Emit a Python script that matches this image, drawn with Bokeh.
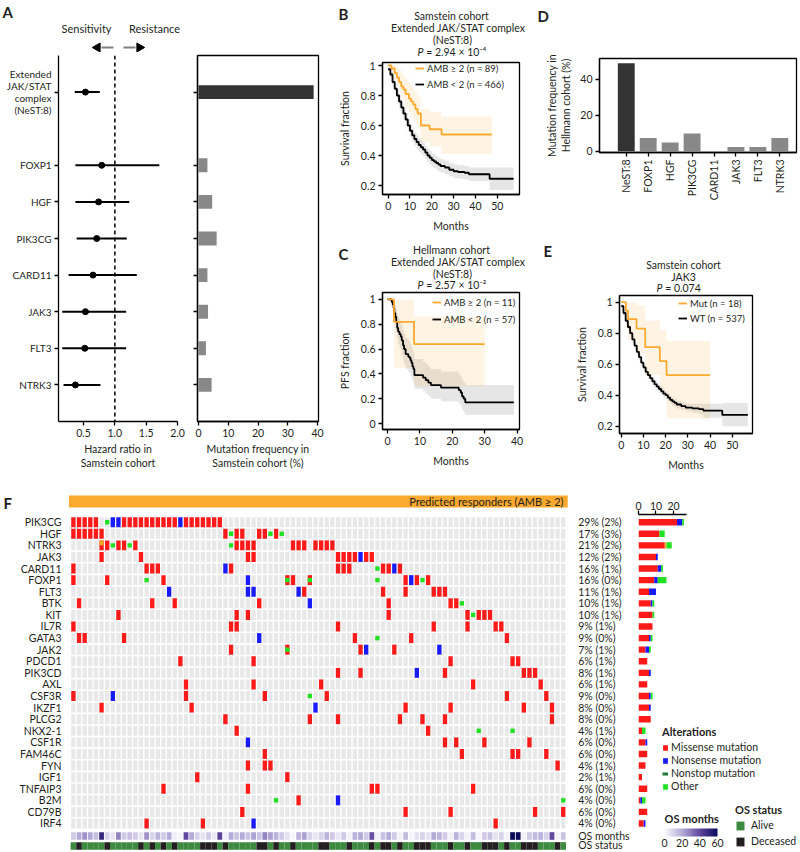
import numpy as np
from bokeh.plotting import figure
from bokeh.layouts import row, column
from bokeh.models import (Range1d, FixedTicker, Span, Legend, LegendItem, ColorBar, LinearColorMapper, Label)
from bokeh.core.properties import value
from bokeh.embed import file_html
from bokeh.resources import INLINE

# ------------------------------------------------------------------ data
# Panel A
A_NAMES = ["Extended\nJAK/STAT\ncomplex\n(NeST:8)", "FOXP1", "HGF", "PIK3CG", "CARD11", "JAK3", "FLT3", "NTRK3"]
A_POS = [0, 2, 3, 4, 5, 6, 7, 8]
A_HR = [0.53, 0.79, 0.74, 0.71, 0.65, 0.53, 0.52, 0.37]
A_LO = [0.36, 0.37, 0.37, 0.39, 0.26, 0.16, 0.16, 0.18]
A_HI = [0.76, 1.71, 1.23, 1.19, 1.35, 1.18, 1.18, 0.77]
A_FREQ = [38.7, 3.0, 4.6, 6.1, 3.0, 3.2, 2.5, 4.4]

# Panel B (Samstein, NeST:8)
B_HI_T = [0, 1.5, 3, 4, 5, 6, 7, 8, 9.5, 10.5, 11.5, 12.5, 13.5, 15, 19, 24.5, 47.5]
B_HI_S = [1.0, 0.98, 0.95, 0.92, 0.89, 0.86, 0.84, 0.81, 0.78, 0.76, 0.74, 0.71, 0.68, 0.60, 0.575, 0.54, 0.54]
B_HI_UP = [1.0, 1.0, 1.0, 0.99, 0.97, 0.95, 0.93, 0.91, 0.88, 0.86, 0.84, 0.82, 0.79, 0.71, 0.69, 0.66, 0.66]
B_HI_LO = [1.0, 0.94, 0.90, 0.86, 0.82, 0.79, 0.76, 0.72, 0.69, 0.66, 0.63, 0.61, 0.58, 0.49, 0.46, 0.41, 0.41]
B_LO_T = [0, 1, 2, 3, 4, 5, 6, 7, 8, 9, 10, 11, 12, 13, 14, 15, 16, 17, 18, 19, 20, 21, 22, 23, 24,
          26, 28, 30, 32, 35, 37, 46.5, 57.5]
B_LO_S = [0.975, 0.94, 0.89, 0.845, 0.80, 0.76, 0.72, 0.68, 0.64, 0.60, 0.565, 0.535, 0.51, 0.49, 0.47,
          0.455, 0.44, 0.42, 0.40, 0.385, 0.37, 0.36, 0.35, 0.34, 0.33, 0.32, 0.305, 0.295, 0.29, 0.285,
          0.275, 0.245, 0.245]
B_LO_UP = [0.99, 0.96, 0.92, 0.88, 0.84, 0.80, 0.76, 0.72, 0.68, 0.64, 0.61, 0.58, 0.555, 0.535, 0.515,
           0.50, 0.485, 0.465, 0.445, 0.43, 0.415, 0.405, 0.395, 0.385, 0.375, 0.365, 0.35, 0.34, 0.335,
           0.33, 0.32, 0.32, 0.32]
B_LO_LO = [0.96, 0.92, 0.86, 0.81, 0.76, 0.72, 0.68, 0.64, 0.60, 0.56, 0.52, 0.49, 0.465, 0.445, 0.425,
           0.41, 0.395, 0.375, 0.355, 0.34, 0.325, 0.315, 0.305, 0.295, 0.285, 0.275, 0.26, 0.25, 0.245,
           0.24, 0.23, 0.17, 0.17]

# Panel C (Hellmann, NeST:8)
C_HI_T = [0, 2, 8.2, 30]
C_HI_S = [1.0, 0.82, 0.64, 0.64]
C_HI_UP = [1.0, 1.0, 0.86, 0.86]
C_HI_LO = [1.0, 0.45, 0.30, 0.30]
C_LO_T = [0, 1.3, 1.6, 1.9, 2.1, 2.4, 2.7, 3.0, 3.3, 3.7, 4.1, 4.4, 4.8, 5.1, 5.6, 6.4, 6.8, 7.1, 7.4,
          7.7, 8.0, 8.3, 11.0, 11.8, 12.6, 13.4, 16.5, 22.0, 22.6, 23.0, 23.5, 24.0, 39.0]
C_LO_S = [1.0, 0.98, 0.96, 0.93, 0.89, 0.86, 0.82, 0.77, 0.74, 0.72, 0.70, 0.67, 0.63, 0.60, 0.56, 0.54,
          0.53, 0.51, 0.49, 0.46, 0.44, 0.39, 0.37, 0.35, 0.33, 0.31, 0.29, 0.27, 0.25, 0.22, 0.20, 0.17, 0.17]
C_LO_UP = [1.0, 1.0, 1.0, 1.0, 0.97, 0.95, 0.92, 0.88, 0.85, 0.83, 0.82, 0.79, 0.75, 0.72, 0.69, 0.67,
           0.66, 0.64, 0.62, 0.59, 0.57, 0.52, 0.50, 0.48, 0.46, 0.44, 0.42, 0.40, 0.38, 0.35, 0.33, 0.31, 0.31]
C_LO_LO = [1.0, 0.94, 0.91, 0.87, 0.82, 0.78, 0.73, 0.68, 0.64, 0.61, 0.59, 0.55, 0.51, 0.48, 0.44, 0.42,
           0.41, 0.39, 0.37, 0.34, 0.32, 0.28, 0.26, 0.24, 0.22, 0.20, 0.18, 0.16, 0.14, 0.11, 0.09, 0.07, 0.07]

# Panel D (Hellmann mutation frequency)
D_NAMES = ["NeST:8", "FOXP1", "HGF", "PIK3CG", "CARD11", "JAK3", "FLT3", "NTRK3"]
D_FREQ = [48.8, 7.3, 4.9, 9.8, 0.0, 2.4, 2.4, 7.3]

# Panel E (Samstein, JAK3)
E_MUT_T = [0, 2.1, 3.1, 6.9, 10.8, 17.4, 20.4, 40]
E_MUT_S = [1.0, 0.945, 0.89, 0.83, 0.71, 0.62, 0.53, 0.53]
E_MUT_UP = [1.0, 1.0, 1.0, 0.98, 0.88, 0.82, 0.75, 0.75]
E_MUT_LO = [1.0, 0.84, 0.76, 0.67, 0.53, 0.43, 0.25, 0.25]
E_WT_T = [0, 1, 2, 3, 4, 5, 6, 7, 8, 9, 10, 11, 12, 13, 14, 15, 16, 17, 18, 19, 20, 21, 22, 23, 24, 25,
          27, 29, 32, 35, 37, 45.5, 57]
E_WT_S = [0.975, 0.93, 0.88, 0.84, 0.80, 0.76, 0.72, 0.68, 0.645, 0.61, 0.58, 0.55, 0.53, 0.51, 0.49, 0.47,
          0.455, 0.44, 0.425, 0.41, 0.40, 0.385, 0.37, 0.36, 0.35, 0.34, 0.33, 0.32, 0.315, 0.31, 0.30,
          0.273, 0.273]
E_WT_UP = [0.99, 0.95, 0.90, 0.86, 0.82, 0.78, 0.74, 0.70, 0.665, 0.63, 0.60, 0.575, 0.555, 0.535, 0.515,
           0.495, 0.48, 0.465, 0.45, 0.435, 0.425, 0.41, 0.395, 0.385, 0.375, 0.365, 0.355, 0.345, 0.345,
           0.345, 0.345, 0.35, 0.35]
E_WT_LO = [0.96, 0.91, 0.86, 0.82, 0.78, 0.74, 0.70, 0.66, 0.625, 0.59, 0.56, 0.525, 0.505, 0.485, 0.465,
           0.445, 0.43, 0.415, 0.40, 0.385, 0.375, 0.36, 0.345, 0.335, 0.325, 0.315, 0.305, 0.295, 0.285,
           0.275, 0.255, 0.20, 0.20]

# Panel F oncoprint: M missense, N nonsense, X other (orange), O other (green); token = type + column
GENES = ["PIK3CG", "HGF", "NTRK3", "JAK3", "CARD11", "FOXP1", "FLT3", "BTK", "KIT", "IL7R", "GATA3",
         "JAK2", "PDCD1", "PIK3CD", "AXL", "CSF3R", "IKZF1", "PLCG2", "NKX2-1", "CSF1R", "FAM46C", "FYN",
         "IGF1", "TNFAIP3", "B2M", "CD79B", "IRF4"]
PCT_LABELS = ["29% (2%)", "17% (3%)", "21% (2%)", "12% (2%)", "16% (1%)", "16% (0%)", "11% (1%)",
              "10% (1%)", "10% (1%)", "9% (1%)", "9% (0%)", "7% (1%)", "6% (1%)", "8% (1%)", "6% (1%)",
              "9% (0%)", "8% (0%)", "8% (0%)", "4% (1%)", "6% (0%)", "6% (0%)", "4% (1%)", "2% (1%)",
              "6% (0%)", "4% (0%)", "6% (0%)", "4% (0%)"]
PIK3CG_ALT = "M0 M1 M2 M3 M4 O6 N7 N8 M9 M10 M11 M12 M13 M14 M15 M16 M17 M18 N19 M20 M21 M22 M23 M24 M25 M26"
HGF_ALT = "M0 M1 M2 M3 M4 M5 M27 O28 M29 M30 M33 M34 O35 M36 O37"
NTRK3_ALT = "X5 M6 O7 M8 M9 O10 M11 O28 M29 M30 M31 M32 M39 M40 M41 M43 M44 M45 M46"
JAK3_ALT = "M5 M12 M31 M32 M47 M48 M49 M50 N51 M52 M53"
CARD11_ALT = "M0 M13 M14 M15 N27 M28 M47 M48 M49 O54 M55 M56 N57 M58"
FOXP1_ALT = "M0 M6 O13 M16 N31 M38 O38 M39 M42 O42 O54 M59 N60 M61 O62 M63"
FLT3_ALT = "N17 N31 N32 N40 M41 M55 M59 M64 M65 M66"
BTK_ALT = "M1 M14 M18 M33 N42 M56 M67 M68 O69"
KIT_ALT = "M8 M29 M31 M56 M70 O71 M72 M73 M74"
IL7R_ALT = "M0 M28 M29 M47 M64 M70 M75 M76"
GATA3_ALT = "M1 M2 M9 N33 M50 O54 M60 M77"
JAK2_ALT = "M28 M38 O38 M51 N52 M57 N65"
PDCD1_ALT = "M19 M32 M67 M78 M79"
PIK3CD_ALT = "M47 M51 N61 M66 M80 M81 M82"
AXL_ALT = "M20 M32 M44 M71 M83"
CSF3R_ALT = "M0 N7 M20 M34 O42 M45 M77 M84"
IKZF1_ALT = "M5 M21 N43 M59 M67 M80 M85"
PLCG2_ALT = "M27 M42 M47 M58 M62 M66 M85"
NKX2_1_ALT = "M29 M63 O72 O78"
CSF1R_ALT = "N31 M66 M68 M73 M81"
FAM46C_ALT = "M34 M69 M78 M79 M84"
FYN_ALT = "M31 M34 M35 M86"
IGF1_ALT = "M22 M38"
TNFAIP3_ALT = "M16 M31 M53 M54 M71"
B2M_ALT = "O36 M40 N47 O87"
CD79B_ALT = "M30 M59 M67 M82 M87"
IRF4_ALT = "M13 M23 N32 M75"
GENE_ALTS = [PIK3CG_ALT, HGF_ALT, NTRK3_ALT, JAK3_ALT, CARD11_ALT, FOXP1_ALT, FLT3_ALT, BTK_ALT, KIT_ALT,
             IL7R_ALT, GATA3_ALT, JAK2_ALT, PDCD1_ALT, PIK3CD_ALT, AXL_ALT, CSF3R_ALT, IKZF1_ALT, PLCG2_ALT,
             NKX2_1_ALT, CSF1R_ALT, FAM46C_ALT, FYN_ALT, IGF1_ALT, TNFAIP3_ALT, B2M_ALT, CD79B_ALT, IRF4_ALT]
OS_MONTHS = [12, 20, 25, 20, 15, 50, 10, 5, 28, 12, 15, 12, 5, 25, 10, 18, 12, 20, 3, 1,
             40, 20, 10, 6, 12, 4, 42, 3, 20, 14, 20, 14, 22, 14, 28, 22, 18, 12, 6, 1,
             18, 22, 10, 5, 10, 18, 12, 5, 12, 2, 18, 20, 12, 38, 2, 14, 20, 12, 2, 16,
             1, 6, 10, 6, 20, 18, 12, 2, 18, 10, 2, 16, 1, 12, 14, 6, 10, 2, 60, 60,
             2, 12, 16, 18, 10, 40, 2, 14]
OS_STATUS = ("ADAAAADAAA" "AADADADADA" "AAADDDADAA" "AAADDADAAD" "AAAADDAAAD"
             "AAADADDADA" "ADDDAAADAA" "DAADDDADAA" "DDDAAADA")

# ------------------------------------------------------------------ style
FONT = "Lato"
TXT = "#231f20"
FS = "10.5px"
LFS = "9.5px"
ORANGE = "#FBA92F"
RED, BLUE, GREEN, DKGREEN, XORANGE = "#FF1A1A", "#1A1AFF", "#22E022", "#1E7B3C", "#F5A623"
ALIVE, DEAD = "#3C8A3F", "#231F20"
CELLGRAY = "#E8E8E8"
OS_PALETTE = []
_anch = [(0.0, (250, 249, 253)), (0.33, (180, 172, 216)), (0.66, (98, 72, 160)), (1.0, (10, 10, 90))]
for k in range(256):
    f = k / 255
    for (f0, c0), (f1, c1) in zip(_anch[:-1], _anch[1:]):
        if f0 <= f <= f1:
            w = (f - f0) / (f1 - f0)
            OS_PALETTE.append("#%02x%02x%02x" % tuple(int(round(a + (b - a) * w)) for a, b in zip(c0, c1)))
            break


def style_axis(ax):
    ax.axis_line_color = "black"
    ax.axis_line_width = 1.3
    ax.major_tick_line_color = "black"
    ax.major_tick_line_width = 1.3
    ax.major_tick_in = 0
    ax.major_tick_out = 4
    ax.minor_tick_line_color = None
    ax.major_label_text_font = FONT
    ax.major_label_text_font_size = FS
    ax.major_label_text_color = TXT
    ax.major_label_standoff = 3
    ax.axis_label_text_font = FONT
    ax.axis_label_text_font_size = FS
    ax.axis_label_text_font_style = "normal"
    ax.axis_label_text_color = TXT
    ax.axis_label_standoff = 5


def mk(ox, oy, w, h, bl, br, bt, bb, xr, yr, xloc="below", yloc="left"):
    p = figure(width=w, height=h, min_border_left=bl, min_border_right=br,
               min_border_top=bt, min_border_bottom=bb,
               x_range=Range1d(*xr), y_range=Range1d(*yr),
               x_axis_location=xloc, y_axis_location=yloc,
               output_backend="svg", toolbar_location=None, tools="")
    p.grid.visible = False
    p.outline_line_color = "black"
    p.outline_line_width = 1.3
    p.border_fill_color = "white"
    p.background_fill_color = "white"
    for ax in p.axis:
        style_axis(ax)
    fl, ft = ox + bl, oy + bt
    fw, fh = w - bl - br, h - bt - bb

    def conv(sx, sy):
        x = xr[0] + (sx - fl) / fw * (xr[1] - xr[0])
        y = yr[0] + (ft + fh - sy) / fh * (yr[1] - yr[0])
        return x, y
    return p, conv


def hdr(x0, y0, w, h):
    """A text-only strip: its ranges are page pixels, so texts sit where the reference shows them."""
    p = figure(width=w, height=h, min_border=0, x_range=Range1d(x0, x0 + w), y_range=Range1d(y0 + h, y0),
               x_axis_location=None, y_axis_location=None, output_backend="svg",
               toolbar_location=None, tools="")
    p.grid.visible = False
    p.outline_line_color = None
    p.border_fill_color = "white"
    p.background_fill_color = "white"
    return p


def solo(p):
    """Wrap a plot on its own so that a row/column does not align its frame with its neighbours."""
    return column(p)


def txt(p, x, y, s, size=FS, align="center", style="normal", color=TXT):
    p.text(x=[x], y=[y], text=[s], text_font=value(FONT), text_font_size=value(size),
           text_font_style=value(style), text_align=value(align), text_baseline=value("middle"),
           text_color=color)


def letter(p, x, y, s):
    p.add_layout(Label(x=x, y=y, text=s, text_font=FONT, text_font_size="15px", text_font_style="bold",
                       text_color=TXT, text_align="left", text_baseline="middle"))


def km_band(p, T, LO, UP, band, alpha):
    p.varea_step(x=T, y1=LO, y2=UP, step_mode="after", fill_color=band, fill_alpha=alpha)


def km_line(p, T, S, color):
    return p.step(x=T, y=S, mode="after", line_color=color, line_width=1.8)


def km_legend(p, items, vx, vy, spacing):
    lg = Legend(items=[LegendItem(label=l, renderers=[r]) for l, r in items], location=(vx, vy),
                border_line_color=None, background_fill_alpha=0, padding=0, margin=0, spacing=spacing,
                label_text_font=FONT, label_text_font_size=LFS, label_text_color=TXT,
                glyph_width=9, glyph_height=8, label_standoff=3, label_height=12)
    p.add_layout(lg)


# ------------------------------------------------------------------ Panel A
hA = hdr(0, 0, 330, 52)
txt(hA, 2, 11, "A", size="15px", align="left", style="bold")
txt(hA, 86, 28, "Sensitivity", size="11px")
txt(hA, 154, 28, "Resistance", size="11px")
hA.segment(x0=[101, 123], y0=[47, 47], x1=[113, 135], y1=[47, 47], line_color="#808080", line_width=2)
hA.scatter(x=[97, 139], y=[47, 47], marker="triangle", size=9, angle=[np.pi / 2, -np.pi / 2],
           color="black")

pA1, _ = mk(0, 52, 190, 438, 58, 13, 3, 69, (0.1, 2.0), (9, -1))
pA1.outline_line_color = None
pA1.xaxis.ticker = FixedTicker(ticks=[0.5, 1.0, 1.5, 2.0])
pA1.xaxis.major_label_overrides = {0.5: "0.5", 1: "1.0", 1.5: "1.5", 2: "2.0"}
pA1.xaxis.axis_label = "Hazard ratio in\nSamstein cohort"
pA1.xaxis.axis_label_standoff = 3
pA1.yaxis.ticker = FixedTicker(ticks=A_POS)
pA1.yaxis.major_label_overrides = {p_: n for p_, n in zip(A_POS, A_NAMES)}
pA1.yaxis.major_label_text_font_size = "10px"
pA1.yaxis.major_label_text_line_height = 1.0
pA1.add_layout(Span(location=1.0, dimension="height", line_color="black", line_dash="4 3", line_width=1.5))
pA1.segment(x0=A_LO, y0=A_POS, x1=A_HI, y1=A_POS, line_color="black", line_width=2)
pA1.scatter(x=A_HR, y=A_POS, size=6, color="black")

pA2, _ = mk(190, 52, 140, 438, 7, 12, 3, 69, (-0.34, 40.33), (9, -1))
pA2.hbar(y=A_POS, left=0, right=A_FREQ, height=0.38, line_color=None,
         fill_color=["#333333" if i == 0 else "#888888" for i in range(len(A_POS))])
pA2.xaxis.ticker = FixedTicker(ticks=[0, 10, 20, 30, 40])
pA2.xaxis.axis_label = "Mutation frequency in\nSamstein cohort (%)"
pA2.xaxis.axis_label_standoff = 3
pA2.yaxis.ticker = FixedTicker(ticks=A_POS)
pA2.yaxis.major_label_overrides = {p_: "" for p_ in A_POS}
pA2.yaxis.major_label_text_font_size = "1px"
pA2.yaxis.major_label_standoff = 0

# ------------------------------------------------------------------ Panel B
hB = hdr(330, 0, 200, 58)
letter(hB, 338, 13, "B")
txt(hB, 451, 15, "Samstein cohort", size="10.5px")
txt(hB, 525, 27, "Extended JAK/STAT complex", size="10.5px", align="right")
txt(hB, 452, 39, "(NeST:8)", size="10.5px")
txt(hB, 423, 51, "P", size="10.5px", align="right", style="italic")
txt(hB, 423, 51, "\u00a0= 2.94 \u00d7 10\u207b\u2074", size="10.5px", align="left")

pB, _ = mk(330, 58, 200, 184, 52, 11, 4, 48, (-2.6, 60.2), (0.14, 1.02))
pB.xaxis.ticker = FixedTicker(ticks=[0, 10, 20, 30, 40, 50])
pB.yaxis.ticker = FixedTicker(ticks=[0.2, 0.4, 0.6, 0.8, 1.0])
pB.xaxis.axis_label = "Months"
pB.yaxis.axis_label = "Survival fraction"
pB.xaxis.axis_label_standoff = 7
pB.yaxis.axis_label_standoff = 7
km_band(pB, B_LO_T, B_LO_LO, B_LO_UP, "#9a9a9a", 0.25)
km_band(pB, B_HI_T, B_HI_LO, B_HI_UP, "#FFB347", 0.15)
rLo = km_line(pB, B_LO_T, B_LO_S, "black")
rHi = km_line(pB, B_HI_T, B_HI_S, ORANGE)
km_legend(pB, [("AMB \u2265 2 (n = 89)", rHi), ("AMB < 2 (n = 466)", rLo)], 33, 104, 4)

# ------------------------------------------------------------------ Panel C
hC = hdr(330, 242, 200, 49)
letter(hC, 338, 253, "C")
txt(hC, 451, 249, "Hellmann cohort", size="10.5px")
txt(hC, 525, 261, "Extended JAK/STAT complex", size="10.5px", align="right")
txt(hC, 452, 273, "(NeST:8)", size="10.5px")
txt(hC, 423, 284, "P", size="10.5px", align="right", style="italic")
txt(hC, 423, 284, "\u00a0= 2.57 \u00d7 10\u207b\u00b2", size="10.5px", align="left")

pC, _ = mk(330, 291, 200, 199, 52, 11, 1, 61, (-1.54, 40.74), (-0.048, 1.056))
pC.xaxis.ticker = FixedTicker(ticks=[0, 10, 20, 30, 40])
pC.yaxis.ticker = FixedTicker(ticks=[0.0, 0.2, 0.4, 0.6, 0.8, 1.0])
pC.xaxis.axis_label = "Months"
pC.yaxis.axis_label = "PFS fraction"
pC.xaxis.axis_label_standoff = 7
pC.yaxis.axis_label_standoff = 7
km_band(pC, C_LO_T, C_LO_LO, C_LO_UP, "#9a9a9a", 0.25)
km_band(pC, C_HI_T, C_HI_LO, C_HI_UP, "#FFB347", 0.15)
rLo = km_line(pC, C_LO_T, C_LO_S, "black")
rHi = km_line(pC, C_HI_T, C_HI_S, ORANGE)
km_legend(pC, [("AMB \u2265 2 (n = 11)", rHi), ("AMB < 2 (n = 57)", rLo)], 50, 104, 5)

# ------------------------------------------------------------------ Panel D
hD = hdr(530, 0, 268, 28)
letter(hD, 537, 15, "D")

pD, _ = mk(530, 28, 268, 212, 69, 2, 30, 88, (-1.22, 7.76), (-0.7, 51.5))
D_X = list(range(len(D_NAMES)))
pD.vbar(x=D_X, bottom=0, top=D_FREQ, width=0.77, line_color=None,
        fill_color=["#333333" if i == 0 else "#888888" for i in D_X])
pD.xaxis.ticker = FixedTicker(ticks=D_X)
pD.xaxis.major_label_overrides = {i: n for i, n in zip(D_X, D_NAMES)}
pD.xaxis.major_label_orientation = np.pi / 2
pD.yaxis.ticker = FixedTicker(ticks=[0, 20, 40])
pD.yaxis.axis_label = "Mutation frequency in\nHellmann cohort (%)"

# ------------------------------------------------------------------ Panel E
hE = hdr(530, 240, 268, 54)
letter(hE, 543, 250, "E")
txt(hE, 683, 264, "Samstein cohort", size="10.5px")
txt(hE, 683, 276, "JAK3", size="10.5px")
txt(hE, 662, 287, "P", size="10.5px", align="right", style="italic")
txt(hE, 662, 287, "\u00a0= 0.074", size="10.5px", align="left")

pE, _ = mk(530, 294, 268, 196, 89, 46, 1, 57, (-0.77, 59.1), (0.153, 1.043))
pE.xaxis.ticker = FixedTicker(ticks=[0, 10, 20, 30, 40, 50])
pE.yaxis.ticker = FixedTicker(ticks=[0.2, 0.4, 0.6, 0.8, 1.0])
pE.xaxis.axis_label = "Months"
pE.yaxis.axis_label = "Survival fraction"
pE.xaxis.axis_label_standoff = 7
pE.yaxis.axis_label_standoff = 7
km_band(pE, E_WT_T, E_WT_LO, E_WT_UP, "#9a9a9a", 0.25)
km_band(pE, E_MUT_T, E_MUT_LO, E_MUT_UP, "#FFB347", 0.15)
rLo = km_line(pE, E_WT_T, E_WT_S, "black")
rHi = km_line(pE, E_MUT_T, E_MUT_S, ORANGE)
km_legend(pE, [("Mut (n = 18)", rHi), ("WT (n = 537)", rLo)], 59, 109, 3)

# ------------------------------------------------------------------ Panel F oncoprint
N_COLS = len(OS_MONTHS)
N_GENES = len(GENES)
ROW_BOT = 28.33
OS_ROWS = [27.08, 27.94]
OS_LABEL_ROWS = [27.06, 27.84]
CELL_W, CELL_H = 0.77, 0.86
pF, cF = mk(0, 490, 630, 360, 0, 0, 0, 0, (-12.95, 98.95), (ROW_BOT, -2.735), xloc=None, yloc=None)
pF.outline_line_color = None
rows = list(range(N_GENES))

xl, _ = cF(61, 0)
xr_, _ = cF(577.7, 0)
pF.text(x=[xl] * N_GENES, y=rows, text=GENES, text_font=value(FONT), text_font_size=value(FS),
        text_align="right", text_baseline="middle", text_color=TXT)
pF.text(x=[xr_] * (N_GENES + 2), y=rows + OS_LABEL_ROWS, text=PCT_LABELS + ["OS months", "OS status"],
        text_font=value(FONT), text_font_size=value(FS), text_align="left", text_baseline="middle",
        text_color=TXT)

# responder header
pF.rect(x=[(N_COLS - 1) / 2], y=[-1.79], width=N_COLS + 0.6, height=1.035, fill_color=ORANGE, line_color=None)
xt, yt = cF(563, 501)
txt(pF, xt, yt, "Predicted responders (AMB \u2265 2)", size="11px", align="right")
xf, yf = cF(3, 502)
letter(pF, xf, yf, "F")

# grid background
bx = np.tile(np.arange(N_COLS), N_GENES)
by = np.repeat(np.arange(N_GENES), N_COLS)
pF.rect(x=bx, y=by, width=CELL_W, height=CELL_H, fill_color=CELLGRAY, line_color=None)

cells = {t: ([], []) for t in "MNXO"}
counts = {t: np.zeros(N_GENES) for t in "MXNSO"}
for gi, alts in enumerate(GENE_ALTS):
    for tok in alts.split():
        t, c = tok[0], int(tok[1:])
        cells[t][0].append(c)
        cells[t][1].append(gi)
        counts[t][gi] += 1
pF.rect(x=cells["M"][0] + cells["X"][0], y=cells["M"][1] + cells["X"][1], width=CELL_W, height=CELL_H,
        fill_color=RED, line_color=None)
pF.rect(x=cells["N"][0], y=cells["N"][1], width=CELL_W, height=CELL_H, fill_color=BLUE, line_color=None)
pF.rect(x=cells["X"][0], y=[v - 0.22 for v in cells["X"][1]], width=CELL_W, height=0.42,
        fill_color=XORANGE, line_color=None)
pF.rect(x=cells["O"][0], y=cells["O"][1], width=CELL_W, height=0.38, fill_color=GREEN, line_color=None)

os_map = LinearColorMapper(palette=OS_PALETTE, low=0, high=60)
cols = list(range(N_COLS))
pF.rect(x=cols, y=[OS_ROWS[0]] * N_COLS, width=0.85, height=0.66,
        fill_color=[OS_PALETTE[min(255, int(v / 60 * 255))] for v in OS_MONTHS], line_color=None)
pF.rect(x=cols, y=[OS_ROWS[1]] * N_COLS, width=1.0, height=0.66,
        fill_color=[ALIVE if s == "A" else DEAD for s in OS_STATUS], line_color=None)

# ------------------------------------------------------------------ Panel F bars + legends
pG, _ = mk(630, 490, 168, 360, 8, 0, 24, 0, (0, 91.43), (ROW_BOT, -0.664), xloc="above", yloc=None)
pG.outline_line_color = None
pG.xaxis.ticker = FixedTicker(ticks=[0, 10, 20])
pG.xaxis.bounds = (0, 27.5)
pG.xaxis.major_label_standoff = 1
left = np.zeros(N_GENES)
rend = {}
colmap = {"M": RED, "X": XORANGE, "N": BLUE, "S": DKGREEN, "O": GREEN}
for t in "MXNSO":
    rend[t] = pG.hbar(y=rows, left=left, right=left + counts[t], height=0.55,
                      fill_color=colmap[t], line_color=None)
    left = left + counts[t]
# legend-only swatches, parked outside the visible ranges
r_nonstop = pG.line(x=[-50, -49], y=[-50, -50], line_color=DKGREEN, line_width=3)
r_alive = pG.rect(x=[-50], y=[-50], width=1, height=1, fill_color=ALIVE, line_color=None)
r_dead = pG.rect(x=[-50], y=[-50], width=1, height=1, fill_color=DEAD, line_color=None)

leg = Legend(items=[LegendItem(label="Missense mutation", renderers=[rend["M"]]),
                    LegendItem(label="Nonsense mutation", renderers=[rend["N"]]),
                    LegendItem(label="Nonstop mutation", renderers=[r_nonstop]),
                    LegendItem(label="Other", renderers=[rend["O"]])],
             title="Alterations", location=(24, 58), border_line_color=None, background_fill_alpha=0,
             padding=0, margin=0, spacing=1, label_text_font=FONT, label_text_font_size=FS,
             label_text_color=TXT, glyph_width=6, glyph_height=7, label_standoff=3, label_height=12,
             title_text_font=FONT, title_text_font_size="11px", title_text_font_style="bold",
             title_text_color=TXT, title_standoff=3)
pG.add_layout(leg)

leg2 = Legend(items=[LegendItem(label="Alive", renderers=[r_alive]),
                     LegendItem(label="Deceased", renderers=[r_dead])],
              title="OS status", location=(97, 3), border_line_color=None, background_fill_alpha=0,
              padding=0, margin=0, spacing=4, label_text_font=FONT, label_text_font_size=FS,
              label_text_color=TXT, glyph_width=10, glyph_height=11, label_standoff=6, label_height=11,
              title_text_font=FONT, title_text_font_size="11px", title_text_font_style="bold",
              title_text_color=TXT, title_standoff=3)
pG.add_layout(leg2)

cb = ColorBar(color_mapper=os_map, orientation="horizontal", width=53, height=8, location=(26, 1),
              title="OS months", title_text_font=FONT, title_text_font_size="11px",
              title_text_font_style="bold", title_text_color=TXT, title_standoff=7,
              ticker=FixedTicker(ticks=[0, 20, 40, 60]), major_tick_line_color=None, bar_line_color=None,
              major_label_text_font=FONT, major_label_text_font_size=FS, major_label_text_color=TXT,
              label_standoff=2, padding=0, background_fill_alpha=0, border_line_color=None)
pG.add_layout(cb)

# ------------------------------------------------------------------ layout (each plot wrapped so frames are not re-aligned)
colA = column(solo(hA), row(solo(pA1), solo(pA2)))
colB = column(solo(hB), solo(pB), solo(hC), solo(pC))
colD = column(solo(hD), solo(pD), solo(hE), solo(pE))
top = row(colA, colB, colD)
bottom = row(solo(pF), solo(pG))
layout = column(top, bottom)
open("out.html", "w").write(file_html(layout, INLINE))
